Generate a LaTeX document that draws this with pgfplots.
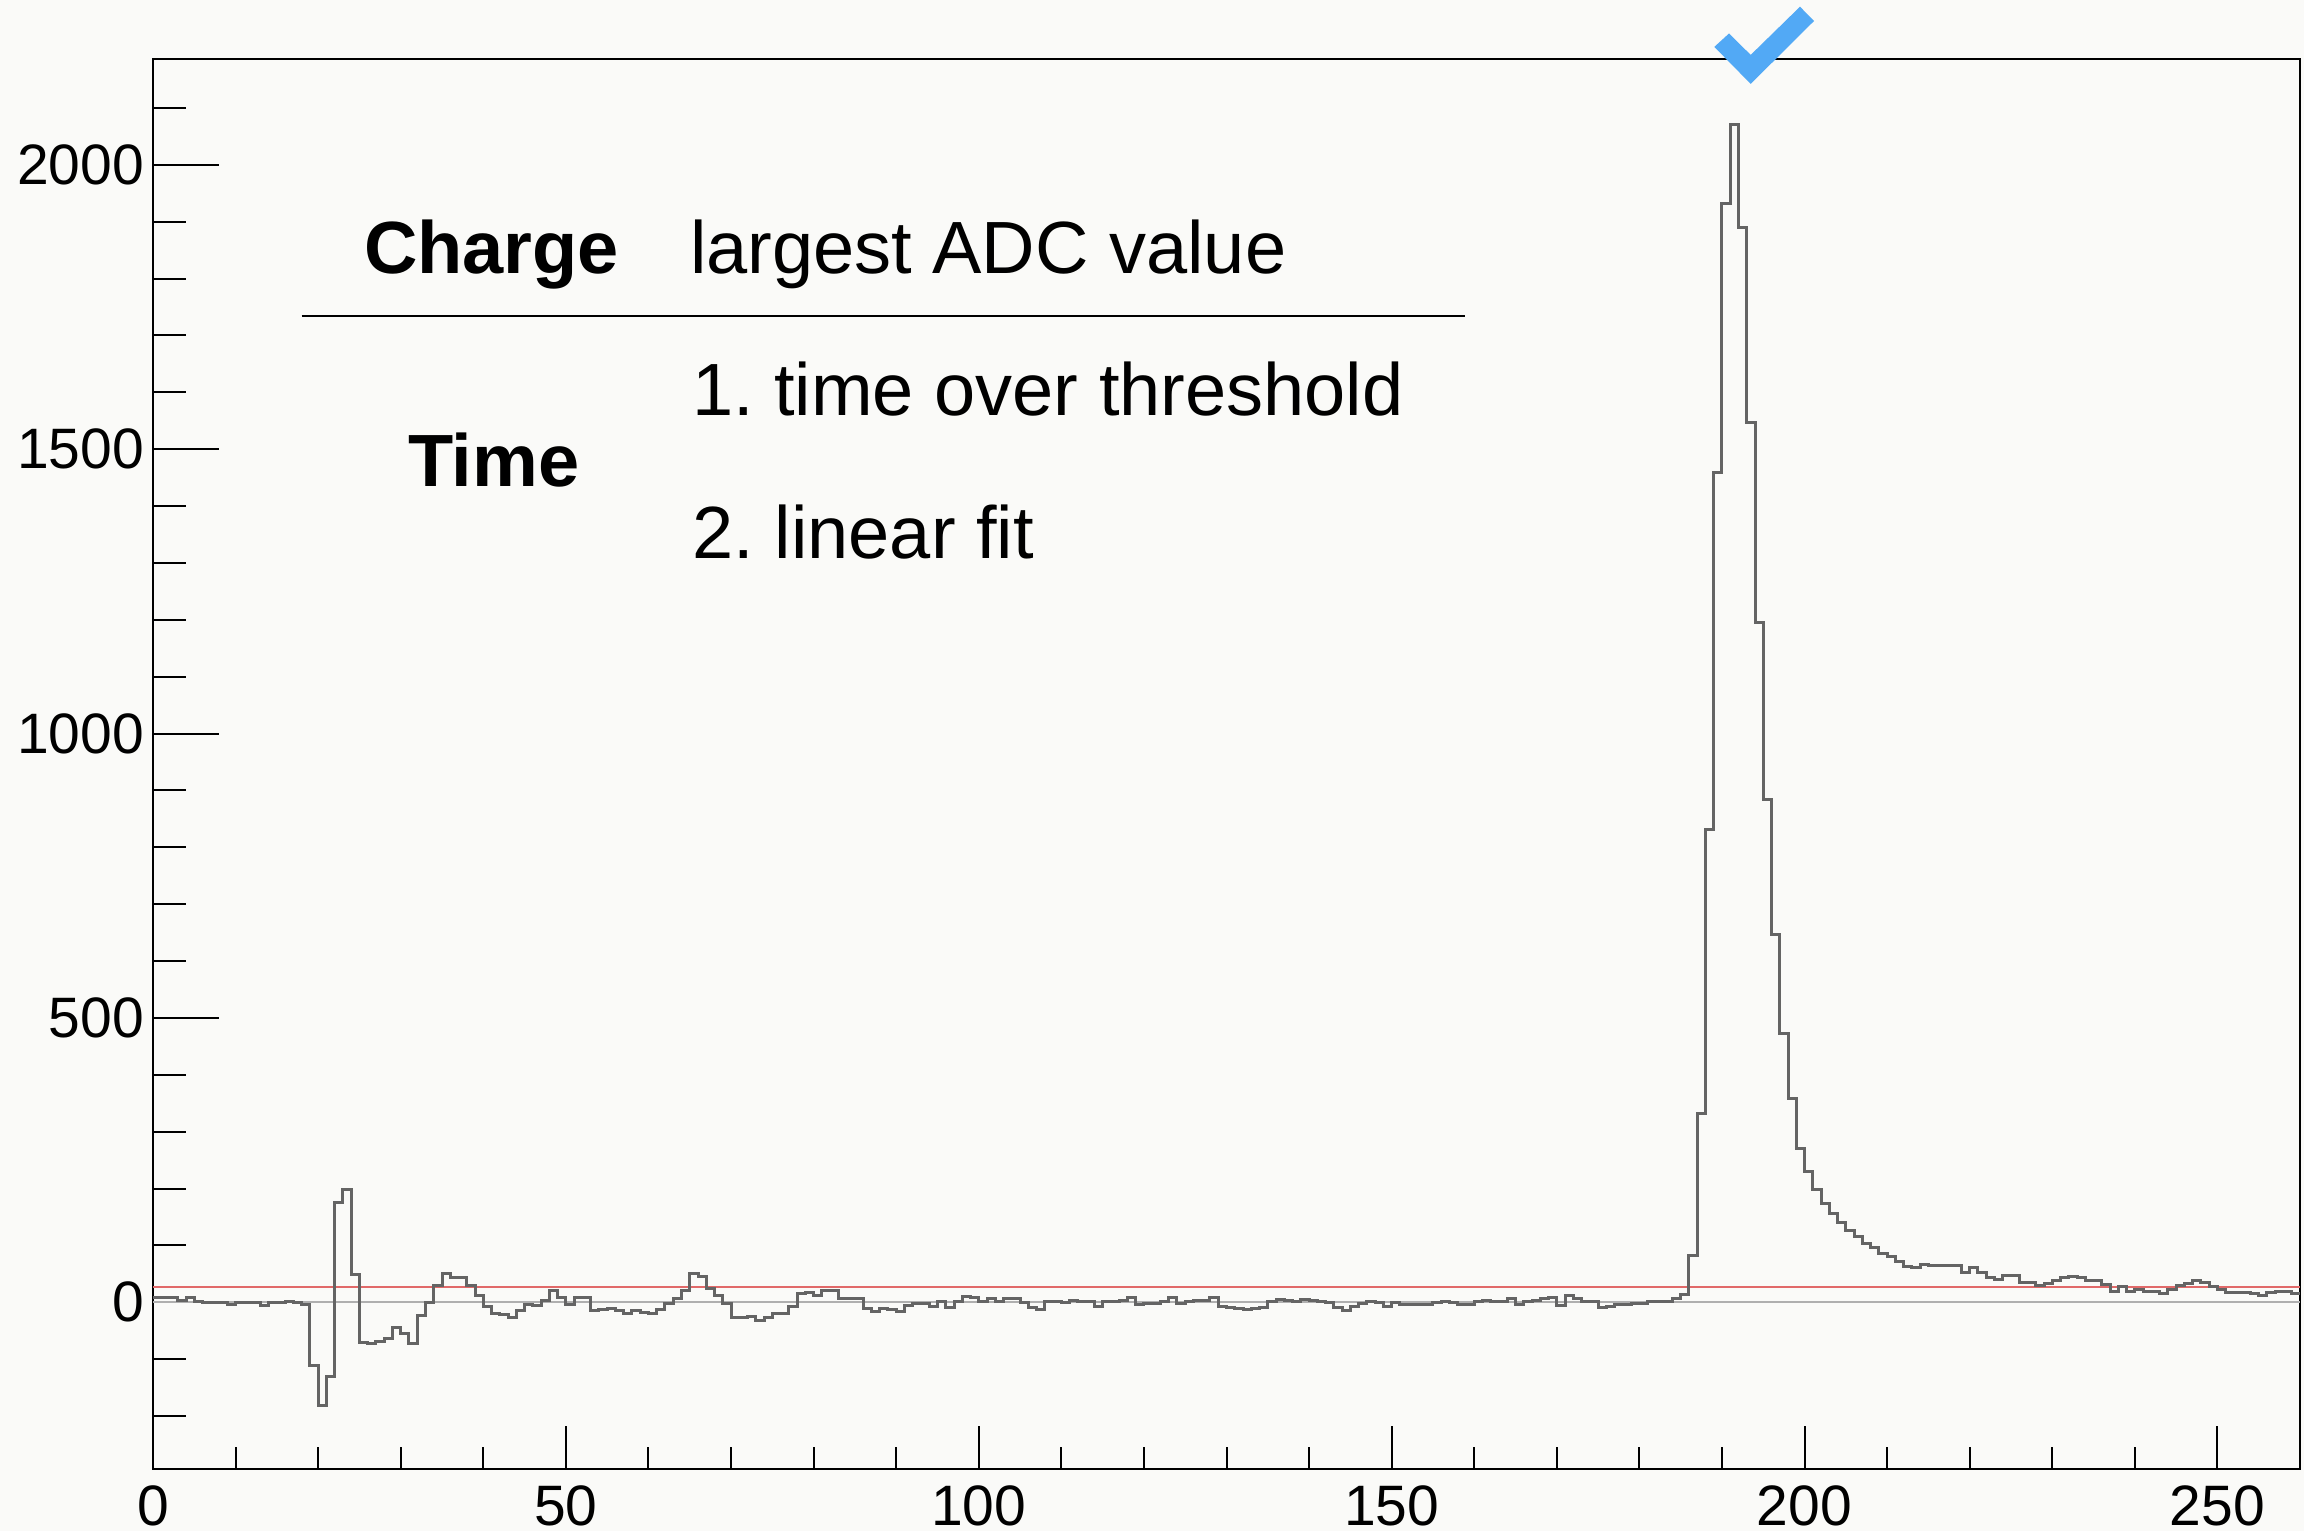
\documentclass[border=0pt]{standalone}
\usepackage{pgfplots}
\pgfplotsset{compat=1.18}
\usepackage{fontspec}
\setmainfont{Liberation Sans}
\frenchspacing
\definecolor{bgcol}{RGB}{250,250,248}
\definecolor{histcol}{RGB}{100,100,100}
\definecolor{thrcol}{RGB}{225,105,105}
\definecolor{zerocol}{RGB}{175,175,175}
\definecolor{checkcol}{RGB}{82,169,245}
\begin{document}
\begin{tikzpicture}
\path[use as bounding box] (-30.6pt,-12.4pt) rectangle (430.2pt,293.8pt);
\fill[bgcol] (-30.6pt,-12.4pt) rectangle (430.2pt,293.8pt);
\begin{axis}[
  scale only axis, width=429.4pt, height=282pt,
  xmin=0, xmax=260, ymin=-293, ymax=2186,
  tick align=inside, tick pos=left,
  xtick={0,50,...,250}, ytick={0,500,...,2000},
  minor xtick={10,20,30,40,60,70,80,90,110,120,130,140,160,170,180,190,210,220,230,240},
  minor ytick={-200,-100,100,200,300,400,600,700,800,900,1100,1200,1300,1400,1600,1700,1800,1900,2100},
  xtick style={/pgfplots/major tick length=8.6pt,/pgfplots/minor tick length=4.4pt, line width=0.4pt, black},
  ytick style={/pgfplots/major tick length=13.2pt,/pgfplots/minor tick length=6.6pt, line width=0.4pt, black},
  axis line style={line width=0.45pt},
  ticklabel style={font=\fontsize{11.4}{13}\selectfont},
  /pgf/number format/assume math mode=true,
  /pgf/number format/1000 sep={},
  xticklabel style={inner sep=0pt, yshift=-3.2pt},
  yticklabel style={inner sep=0pt, xshift=-1.6pt},
  clip=true,
]
\addplot[zerocol, line width=0.35pt] coordinates {(0,0) (260,0)};
\addplot[thrcol, line width=0.35pt] coordinates {(0,27) (260,27)};
\addplot[histcol, line width=0.6pt, const plot mark left] coordinates {
(0,9) (1,9) (2,9) (3,4) (4,8) (5,2) (6,-1) (7,-1) (8,-1) (9,-4)
(10,-1) (11,-1) (12,-1) (13,-6) (14,-1) (15,-1) (16,2) (17,-1) (18,-4) (19,-111)
(20,-181) (21,-131) (22,176) (23,199) (24,49) (25,-70) (26,-73) (27,-69) (28,-63) (29,-45)
(30,-55) (31,-73) (32,-23) (33,-1) (34,29) (35,50) (36,43) (37,43) (38,29) (39,12)
(40,-8) (41,-20) (42,-22) (43,-26) (44,-15) (45,-4) (46,-6) (47,4) (48,20) (49,8)
(50,-4) (51,9) (52,8) (53,-15) (54,-13) (55,-10) (56,-15) (57,-20) (58,-15) (59,-18)
(60,-20) (61,-13) (62,-2) (63,6) (64,21) (65,50) (66,45) (67,24) (68,12) (69,-2)
(70,-26) (71,-26) (72,-24) (73,-32) (74,-26) (75,-20) (76,-20) (77,-7) (78,15) (79,18)
(80,12) (81,20) (82,20) (83,6) (84,6) (85,6) (86,-11) (87,-16) (88,-11) (89,-13)
(90,-16) (91,-5) (92,-2) (93,-2) (94,-7) (95,2) (96,-9) (97,1) (98,11) (99,8)
(100,2) (101,6) (102,1) (103,6) (104,6) (105,-1) (106,-9) (107,-13) (108,1) (109,1)
(110,-1) (111,4) (112,2) (113,1) (114,-7) (115,1) (116,1) (117,4) (118,8) (119,-4)
(120,-2) (121,-2) (122,1) (123,8) (124,-2) (125,1) (126,4) (127,4) (128,8) (129,-7)
(130,-9) (131,-11) (132,-13) (133,-11) (134,-9) (135,1) (136,5) (137,4) (138,2) (139,5)
(140,4) (141,1) (142,-1) (143,-9) (144,-15) (145,-7) (146,-2) (147,2) (148,-1) (149,-7)
(150,-1) (151,-4) (152,-4) (153,-4) (154,-4) (155,-1) (156,1) (157,0) (158,-4) (159,-4)
(160,1) (161,4) (162,1) (163,1) (164,6) (165,-4) (166,1) (167,4) (168,6) (169,9)
(170,-5) (171,12) (172,6) (173,1) (174,1) (175,-9) (176,-7) (177,-4) (178,-4) (179,-2)
(180,-2) (181,1) (182,1) (183,2) (184,7) (185,13) (186,83) (187,332) (188,832) (189,1459)
(190,1932) (191,2070) (192,1889) (193,1547) (194,1195) (195,884) (196,647) (197,472) (198,359) (199,271)
(200,230) (201,198) (202,174) (203,156) (204,141) (205,126) (206,116) (207,104) (208,97) (209,86)
(210,80) (211,72) (212,63) (213,62) (214,66) (215,64) (216,64) (217,64) (218,64) (219,53)
(220,62) (221,53) (222,44) (223,41) (224,48) (225,48) (226,35) (227,35) (228,30) (229,34)
(230,39) (231,43) (232,45) (233,43) (234,38) (235,38) (236,32) (237,19) (238,28) (239,19)
(240,22) (241,19) (242,19) (243,16) (244,22) (245,30) (246,34) (247,38) (248,35) (249,28)
(250,23) (251,18) (252,18) (253,18) (254,15) (255,12) (256,18) (257,19) (258,19) (259,15)
(260,15)
};
\end{axis}
% annotation text block
\begin{scope}[every node/.style={inner sep=0pt, anchor=base west, font=\fontsize{14.8}{17}\selectfont}]
\node at (42.0pt,239.1pt) {\bfseries Charge};
\node at (107.2pt,239.1pt) {largest ADC value};
\draw[black, line width=0.4pt] (29.7pt,230.6pt) -- (262.3pt,230.6pt);
\node at (107.6pt,210.8pt) {1. time over threshold};
\node at (50.8pt,196.5pt) {\bfseries Time};
\node at (107.7pt,182.1pt) {2. linear fit};
\end{scope}
% check mark
\fill[checkcol] (312.26pt,284.42pt) -- (315.2pt,287.1pt) -- (319.54pt,282.82pt) -- (329.4pt,292.46pt) -- (332.2pt,289.6pt) -- (319.54pt,277.02pt) -- cycle;
\end{tikzpicture}
\end{document}
